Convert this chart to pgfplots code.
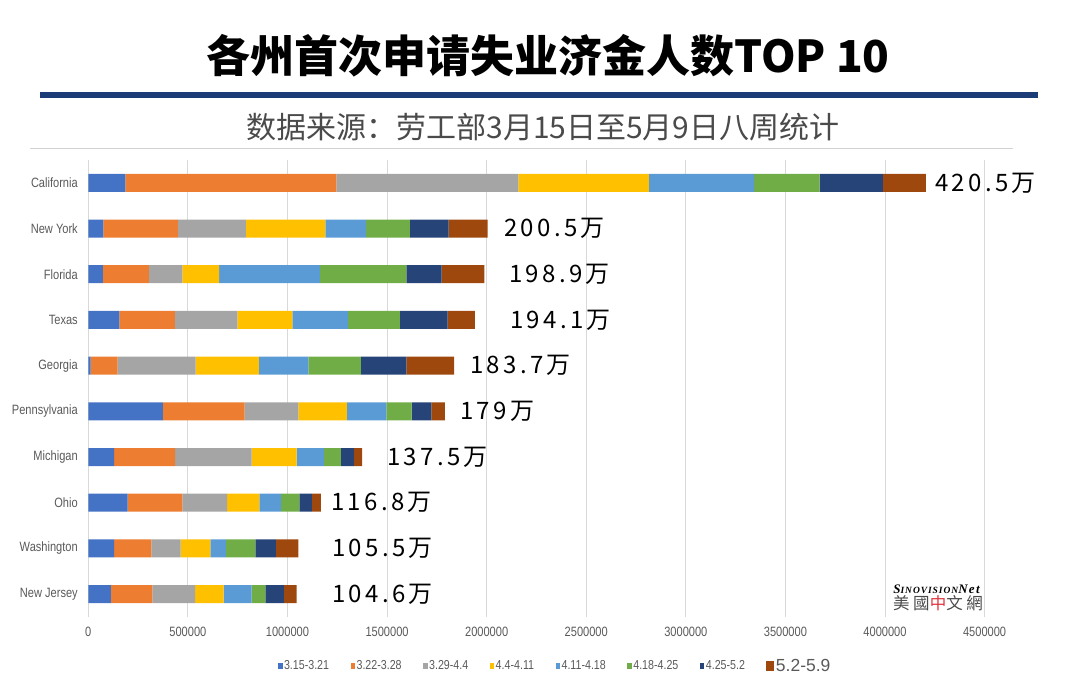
\documentclass[border=0pt]{standalone}
\usepackage{pgfplots}
\pgfplotsset{compat=1.18}
\usepackage{fontspec}
\setmainfont{Liberation Sans}
\newfontfamily\cjk{Noto Sans CJK SC}
\newfontfamily\cjklab[LetterSpace=14]{Noto Sans CJK SC}
\newfontfamily\cjktc[LetterSpace=22]{Noto Sans CJK TC}
\newfontfamily\narrow[FakeStretch=0.82]{Liberation Sans}
\newfontfamily\lserif[LetterSpace=10]{Liberation Serif}
\definecolor{c1}{HTML}{4472C4}
\definecolor{c2}{HTML}{ED7D31}
\definecolor{c3}{HTML}{A5A5A5}
\definecolor{c4}{HTML}{FFC000}
\definecolor{c5}{HTML}{5B9BD5}
\definecolor{c6}{HTML}{70AD47}
\definecolor{c7}{HTML}{264478}
\definecolor{c8}{HTML}{9E480E}
\definecolor{rulecol}{HTML}{1C3C78}
\definecolor{subgray}{HTML}{4A4A4A}
\definecolor{lblgray}{HTML}{595959}
\definecolor{gridgray}{HTML}{D9D9D9}
\definecolor{wmred}{HTML}{E0323C}
\pgfplotsset{
  smallsq/.style={legend image code/.code={\fill[##1] (0pt,-3pt) rectangle (4.5pt,3pt);}},
  bigsq/.style={legend image code/.code={\fill[##1] (0pt,-5.3pt) rectangle (8pt,5.3pt);}},
}
\tikzset{vlab/.style={anchor=west, font=\cjklab\fontsize{24}{26}\selectfont, text=black, inner sep=0pt}}
\begin{document}
\begin{tikzpicture}
\useasboundingbox (0pt,0pt) rectangle (1080pt,700pt);
% title
\node[font=\cjk\bfseries\fontsize{44}{48}\selectfont, text=black] at (548pt,644pt) {各州首次申请失业济金人数TOP 10};
\fill[rulecol] (40pt,602pt) rectangle (1038pt,608pt);
\node[font=\cjk\fontsize{30}{32}\selectfont, text=subgray] at (543pt,573pt) {数据来源：劳工部3月15日至5月9日八周统计};
\draw[gray!35, line width=1pt] (30pt,551pt) -- (1013pt,551pt);
\begin{axis}[
  at={(88.3pt,83pt)}, anchor=south west,
  width=896.3pt, height=457pt, scale only axis,
  xbar stacked, bar width=18pt,
  xmin=0, xmax=4500000, ymin=-0.5, ymax=9.5,
  y dir=reverse,
  ytick={0,1,2,3,4,5,6,7,8,9},
  yticklabels={California,New York,Florida,Texas,Georgia,Pennsylvania,Michigan,Ohio,Washington,New Jersey},
  xtick={0,500000,1000000,1500000,2000000,2500000,3000000,3500000,4000000,4500000},
  xticklabels={0,500000,1000000,1500000,2000000,2500000,3000000,3500000,4000000,4500000},
  scaled x ticks=false,
  axis line style={draw=none},
  tick style={draw=none},
  major tick length=0pt,
  xmajorgrids, grid style={gridgray, line width=0.8pt},
  xticklabel style={font=\narrow\fontsize{13.5}{14}\selectfont, text=lblgray, yshift=-7pt},
  yticklabel style={font=\narrow\fontsize{13.5}{14}\selectfont, text=lblgray, xshift=-7pt},
  clip=false,
  legend columns=8,
  legend style={at={(0.5207,-0.107)}, anchor=center, draw=none, fill=none,
    font=\narrow\fontsize{13}{14}\selectfont, text=lblgray,
    /tikz/every even column/.append style={column sep=20pt},
    nodes={inner xsep=1.5pt, inner ysep=1pt}},
  smallsq,
]
\addplot[fill=c1, draw=none] coordinates {(185700,0) (76300,1) (72800,2) (156100,3) (12000,4) (375000,5) (130000,6) (197800,7) (130000,8) (113000,9)};
\addplot[fill=c2, draw=none] coordinates {(1059800,0) (373500,1) (230900,2) (278100,3) (135600,4) (410100,5) (305700,6) (274600,7) (186300,8) (208300,9)};
\addplot[fill=c3, draw=none] coordinates {(914100,0) (340900,1) (168700,2) (314800,3) (391100,4) (269600,5) (384100,6) (224400,7) (147600,8) (215300,9)};
\addplot[fill=c4, draw=none] coordinates {(655200,0) (399600,1) (184200,2) (276100,3) (317700,4) (243000,5) (225900,6) (161600,7) (149600,8) (142600,9)};
\addplot[fill=c5, draw=none] coordinates {(527600,0) (204800,1) (505500,2) (278100,3) (248500,4) (198300,5) (137500,6) (109500,7) (77800,8) (140600,9)};
\addplot[fill=c6, draw=none] coordinates {(329800,0) (218900,1) (434800,2) (260600,3) (264100,4) (127000,5) (84900,6) (91800,7) (148100,8) (69800,9)};
\addplot[fill=c7, draw=none] coordinates {(317300,0) (194700,1) (177200,2) (239900,3) (227900,4) (98900,5) (64700,6) (62800,7) (102400,8) (91800,9)};
\addplot[fill=c8, draw=none, bigsq] coordinates {(215800,0) (196300,1) (214900,2) (137300,3) (240100,4) (68100,5) (42200,6) (45500,7) (113200,8) (64600,9)};
\legend{3.15-3.21,3.22-3.28,3.29-4.4,4.4-4.11,4.11-4.18,4.18-4.25,4.25-5.2,{\normalfont\fontsize{17.5}{18}\selectfont 5.2-5.9}}
\node[vlab] at (axis cs:4250500,0) {420.5万};
\node[vlab] at (axis cs:2086800,1) {200.5万};
\node[vlab] at (axis cs:2112000,2) {198.9万};
\node[vlab] at (axis cs:2117000,3) {194.1万};
\node[vlab] at (axis cs:1916000,4) {183.7万};
\node[vlab] at (axis cs:1866000,5) {179万};
\node[vlab] at (axis cs:1499500,6) {137.5万};
\node[vlab] at (axis cs:1218400,7) {116.8万};
\node[vlab] at (axis cs:1223400,8) {105.5万};
\node[vlab] at (axis cs:1223400,9) {104.6万};
\end{axis}
% watermark
\node[font=\lserif\bfseries\itshape\fontsize{13}{14}\selectfont, text=black] at (936.5pt,111pt) {S{\fontsize{9.5}{10}\selectfont INOVISION}Net};
\node[font=\cjktc\fontsize{16.5}{17}\selectfont, text=subgray] at (938pt,97pt) {美國\textcolor{wmred}{中}文網};
\end{tikzpicture}
\end{document}
